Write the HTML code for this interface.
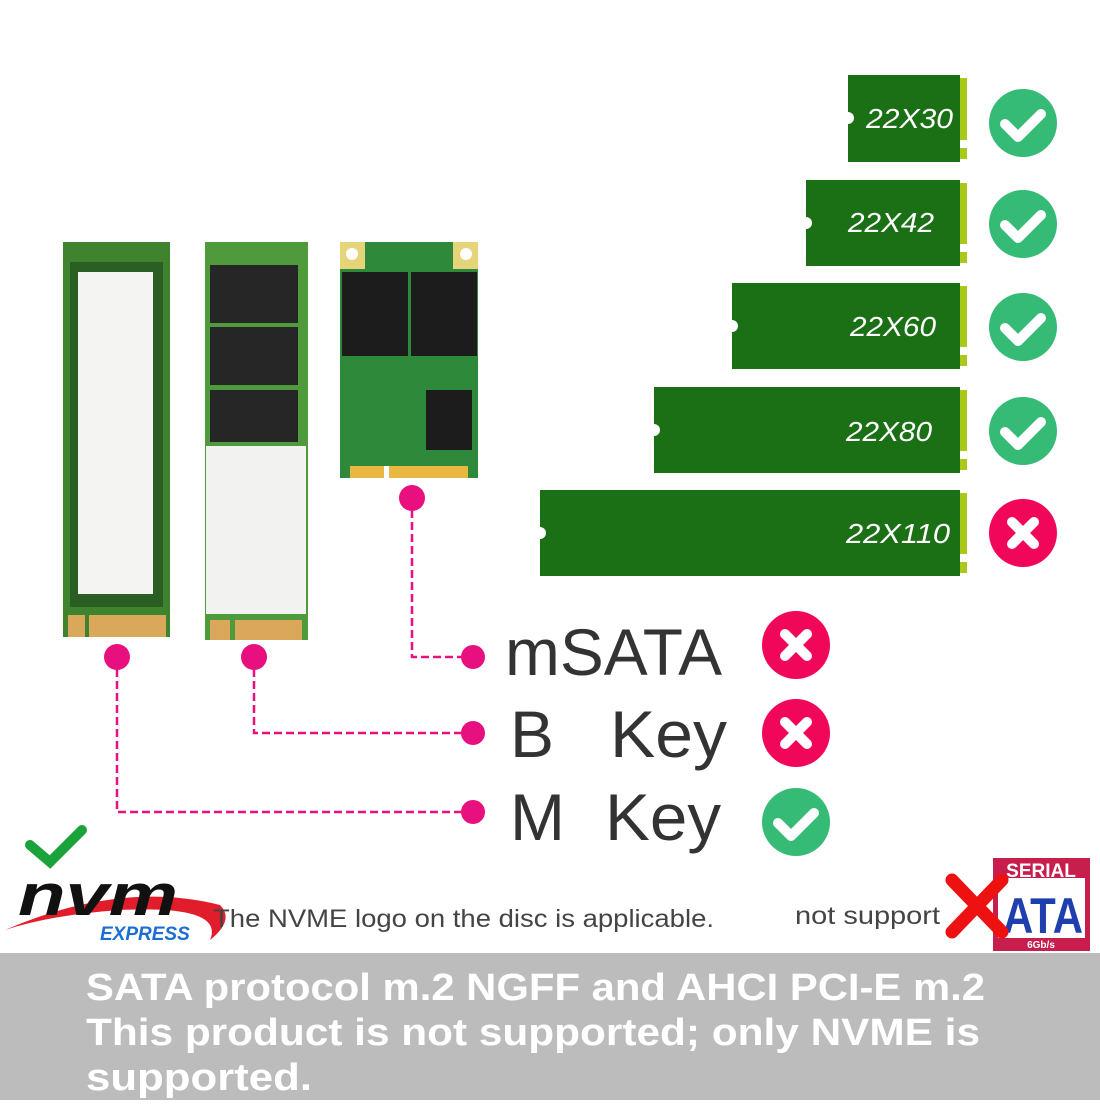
<!DOCTYPE html>
<html><head><meta charset="utf-8"><style>
html,body{margin:0;padding:0;background:#fff;}
svg text{font-family:"Liberation Sans",sans-serif;}
</style></head><body>
<svg width="1100" height="1100" viewBox="0 0 1100 1100" xmlns="http://www.w3.org/2000/svg">
<rect width="1100" height="1100" fill="#fff"/>
<g fill="#1b7016">
<rect x="848" y="75" width="112" height="87"/>
<rect x="806" y="180" width="154" height="86"/>
<rect x="732" y="283" width="228" height="86"/>
<rect x="654" y="387" width="306" height="86"/>
<rect x="540" y="490" width="420" height="86"/>
</g>
<g fill="#fff">
<circle cx="848" cy="118" r="6"/><circle cx="806" cy="223" r="6"/><circle cx="732" cy="326" r="6"/><circle cx="654" cy="430" r="6"/><circle cx="540" cy="533" r="6"/>
</g>
<g fill="#a8c81a">
<rect x="960" y="78" width="7" height="62"/><rect x="960" y="148" width="7" height="11"/>
<rect x="960" y="183" width="7" height="61"/><rect x="960" y="252" width="7" height="11"/>
<rect x="960" y="286" width="7" height="61"/><rect x="960" y="355" width="7" height="11"/>
<rect x="960" y="390" width="7" height="61"/><rect x="960" y="459" width="7" height="11"/>
<rect x="960" y="493" width="7" height="61"/><rect x="960" y="562" width="7" height="11"/>
</g>
<g fill="#fff" font-size="28" font-style="italic">
<text x="866" y="128" textLength="87" lengthAdjust="spacingAndGlyphs">22X30</text>
<text x="848" y="232" textLength="86" lengthAdjust="spacingAndGlyphs">22X42</text>
<text x="850" y="336" textLength="86" lengthAdjust="spacingAndGlyphs">22X60</text>
<text x="846" y="441" textLength="86" lengthAdjust="spacingAndGlyphs">22X80</text>
<text x="846" y="543" textLength="104" lengthAdjust="spacingAndGlyphs">22X110</text>
</g>
<g>
<circle cx="1023" cy="123" r="34" fill="#36bb76"/>
<circle cx="1023" cy="224" r="34" fill="#36bb76"/>
<circle cx="1023" cy="327" r="34" fill="#36bb76"/>
<circle cx="1023" cy="431" r="34" fill="#36bb76"/>
<circle cx="796" cy="822" r="34" fill="#36bb76"/>
</g>
<g fill="none" stroke="#fff" stroke-width="10" stroke-linecap="round" stroke-linejoin="round">
<polyline points="1005,124 1018,137 1041,114"/>
<polyline points="1005,225 1018,238 1041,215"/>
<polyline points="1005,328 1018,341 1041,318"/>
<polyline points="1005,432 1018,445 1041,422"/>
<polyline points="778,823 791,836 814,813"/>
</g>
<circle cx="1023" cy="533" r="34" fill="#f0075a"/>
<circle cx="796" cy="645" r="34" fill="#f0075a"/>
<circle cx="796" cy="733" r="34" fill="#f0075a"/>
<g stroke="#fff" stroke-width="10" stroke-linecap="round">
<line x1="1012" y1="522" x2="1034" y2="544"/><line x1="1034" y1="522" x2="1012" y2="544"/>
<line x1="785" y1="634" x2="807" y2="656"/><line x1="807" y1="634" x2="785" y2="656"/>
<line x1="785" y1="722" x2="807" y2="744"/><line x1="807" y1="722" x2="785" y2="744"/>
</g>
<!-- card 1 -->
<rect x="63" y="242" width="107" height="395" fill="#3f832f"/>
<rect x="70" y="262" width="93" height="345" fill="#2a5e22"/>
<rect x="78" y="272" width="75" height="322" fill="#f4f4f2"/>
<rect x="68" y="615" width="98" height="22" fill="#d9a85a"/>
<rect x="85" y="615" width="4" height="22" fill="#3f832f"/>
<!-- card 2 -->
<rect x="205" y="242" width="103" height="398" fill="#4e9a3d"/>
<rect x="210" y="265" width="88" height="58" fill="#262626"/>
<rect x="210" y="327" width="88" height="58" fill="#262626"/>
<rect x="210" y="390" width="88" height="52" fill="#262626"/>
<rect x="206" y="446" width="100" height="168" fill="#f2f2f0"/>
<rect x="210" y="620" width="92" height="20" fill="#d9a85a"/>
<rect x="230" y="620" width="5" height="20" fill="#4e9a3d"/>
<!-- msata -->
<rect x="340" y="242" width="138" height="236" fill="#2e8a3a"/>
<rect x="340" y="242" width="25" height="27" fill="#e6d47a"/><rect x="453" y="242" width="25" height="27" fill="#e6d47a"/>
<circle cx="352" cy="254" r="6" fill="#fff"/><circle cx="466" cy="254" r="6" fill="#fff"/>
<rect x="342" y="272" width="66" height="84" fill="#1c1c1c"/>
<rect x="411" y="272" width="66" height="84" fill="#1c1c1c"/>
<rect x="426" y="390" width="46" height="60" fill="#1c1c1c"/>
<rect x="350" y="466" width="118" height="12" fill="#e8b840"/>
<rect x="384" y="466" width="5" height="12" fill="#fff"/>
<!-- connectors -->
<g stroke="#e8107f" stroke-width="2.5" fill="none" stroke-dasharray="8,4">
<polyline points="412,498 412,657 472,657"/>
<polyline points="254,657 254,733 472,733"/>
<polyline points="117,657 117,812 472,812"/>
</g>
<g fill="#e8107f">
<circle cx="412" cy="498" r="13"/><circle cx="254" cy="657" r="13"/><circle cx="117" cy="657" r="13"/>
<circle cx="473" cy="657" r="12"/><circle cx="473" cy="733" r="12"/><circle cx="473" cy="812" r="12"/>
</g>
<g fill="#333" font-size="66">
<text x="505" y="675" textLength="217" lengthAdjust="spacingAndGlyphs">mSATA</text>
<text x="510" y="757">B</text><text x="610" y="757" textLength="117" lengthAdjust="spacingAndGlyphs">Key</text>
<text x="510" y="840">M</text><text x="605" y="840" textLength="116" lengthAdjust="spacingAndGlyphs">Key</text>
</g>
<!-- nvm logo -->
<polyline points="30,845 50,862 82,830" fill="none" stroke="#1aa33a" stroke-width="10" stroke-linecap="round"/>
<path d="M5,930 Q120,880 220,905 Q235,920 210,940 Q225,905 120,910 Q50,915 5,930Z" fill="#e11d2b"/>
<text x="18" y="915" font-size="58" font-weight="bold" font-style="italic" fill="#111" textLength="160" lengthAdjust="spacingAndGlyphs">nvm</text>
<text x="100" y="940" font-size="19" font-weight="bold" font-style="italic" fill="#1a6fd0">EXPRESS</text>
<text x="213" y="927" font-size="25" fill="#444" textLength="501" lengthAdjust="spacingAndGlyphs">The NVME logo on the disc is applicable.</text>
<text x="795" y="924" font-size="25" fill="#444" textLength="145" lengthAdjust="spacingAndGlyphs">not support</text>
<!-- sata logo -->
<rect x="993" y="858" width="97" height="93" fill="#c81e4e"/>
<rect x="998" y="878" width="87" height="60" fill="#fff"/>
<text x="1041" y="877" font-size="19" font-weight="bold" fill="#fff" text-anchor="middle">SERIAL</text>
<text x="1043" y="933" font-size="50" font-weight="bold" fill="#1f3fae" text-anchor="middle" textLength="80" lengthAdjust="spacingAndGlyphs">ATA</text>
<text x="1041" y="948" font-size="10" font-weight="bold" fill="#fff" text-anchor="middle">6Gb/s</text>
<g stroke="#ee1111" stroke-width="13" stroke-linecap="round">
<line x1="952" y1="880" x2="1002" y2="932"/><line x1="1002" y1="880" x2="952" y2="932"/>
</g>
<!-- bottom band -->
<rect x="0" y="953" width="1100" height="147" fill="#bcbcbc"/>
<g fill="#fff" font-size="38" font-weight="bold">
<text x="86" y="1000" textLength="899" lengthAdjust="spacingAndGlyphs">SATA protocol m.2 NGFF and AHCI PCI-E m.2</text>
<text x="86" y="1045" textLength="894" lengthAdjust="spacingAndGlyphs">This product is not supported; only NVME is</text>
<text x="86" y="1090" textLength="226" lengthAdjust="spacingAndGlyphs">supported.</text>
</g>
</svg>
</body></html>
